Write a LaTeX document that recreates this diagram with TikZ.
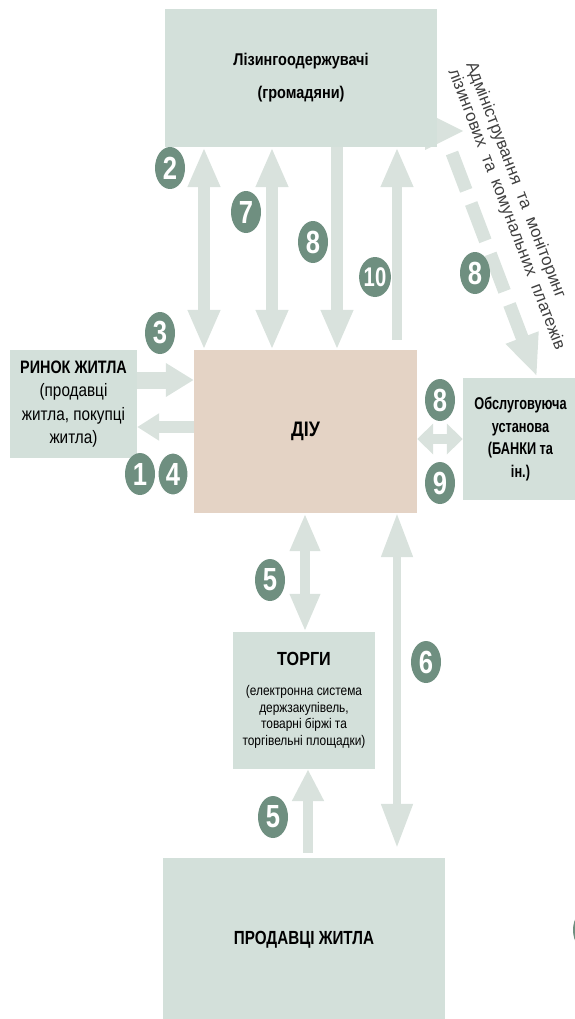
\documentclass[tikz,border=0pt]{standalone}
\usepackage{fontspec}
\setmainfont{Liberation Sans}
\newfontfamily\nara[FakeStretch=0.85]{Liberation Sans}
\newfontfamily\narb[FakeStretch=0.8]{Liberation Sans}
\newfontfamily\narc[FakeStretch=0.75]{Liberation Sans}
\usetikzlibrary{arrows.meta,shapes.geometric,calc}
\definecolor{boxc}{HTML}{D3E0DA}
\definecolor{arrc}{HTML}{D9E2DD}
\definecolor{diuc}{HTML}{E4D3C5}
\definecolor{circc}{HTML}{6F8F80}
\definecolor{txtc}{HTML}{404040}
\tikzset{
  box/.style={fill=boxc, inner sep=0pt, align=center, text=black},
  fat/.style={draw=arrc, line width=#1},
  lab/.style={ellipse, fill=circc, minimum width=30pt, minimum height=42pt, inner sep=0pt,
    text=white, font=\narb\bfseries\fontsize{32}{32}\selectfont},
}
\begin{document}
\begin{tikzpicture}[x=1pt,y=-1pt]
\useasboundingbox (0,0) rectangle (575,1019);
% arrowhead leaving the top box
\fill[arrc] (425,112) -- (463,131) -- (425,150) -- cycle;
% boxes
\node[box, minimum width=272pt, minimum height=138pt,
  font=\nara\bfseries\fontsize{17}{20}\selectfont] (top) at (301,78)
  {Лізингоодержувачі\\[13pt](громадяни)};
\node[box, minimum width=127pt, minimum height=108pt,
  font=\nara\fontsize{18}{23.5}\selectfont] (rynok) at (73.5,404)
  {{\narb\bfseries РИНОК ЖИТЛА}\\(продавці\\житла, покупці\\житла)};
\node[box, fill=diuc, minimum width=223pt, minimum height=163pt,
  font=\nara\bfseries\fontsize{21}{24}\selectfont] (diu) at (305.5,431.5) {ДІУ};
\node[box, minimum width=115pt, minimum height=122pt,
  font=\narc\bfseries\fontsize{17}{22.5}\selectfont] (bank) at (520.5,439)
  {Обслуговуюча\\установа\\(БАНКИ\ та\\ін.)};
\node[box, minimum width=142pt, minimum height=137pt,
  font=\nara\fontsize{14}{16.5}\selectfont] (torgi) at (304,700.5)
  {{\bfseries\fontsize{19}{20}\selectfont ТОРГИ}\\[13.5pt](електронна система\\держзакупівель,\\товарні біржі та\\торгівельні площадки)};
\node[box, minimum width=282pt, minimum height=164pt,
  font=\narb\bfseries\fontsize{19}{22}\selectfont] (prod) at (304,940) {ПРОДАВЦІ ЖИТЛА};
% column / row helpers
\coordinate (x2) at (204,0);
\coordinate (x7) at (272,0);
\coordinate (x8) at (337,0);
\coordinate (x10) at (397,0);
\coordinate (x5) at (305,0);
\coordinate (x6) at (397,0);
\coordinate (x5b) at (308,0);
\coordinate (y3) at (0,380);
\coordinate (y14) at (0,427);
\coordinate (ds) at (452,153);
% arrows top
\draw[fat=12pt, {Triangle[width=30pt,length=40pt]}-{Triangle[width=30pt,length=40pt]}] (top.south -| x2) -- (diu.north -| x2);
\draw[fat=12pt, {Triangle[width=30pt,length=40pt]}-{Triangle[width=30pt,length=40pt]}] (top.south -| x7) -- (diu.north -| x7);
\draw[fat=12pt, -{Triangle[width=30pt,length=40pt]}] (top.south -| x8) -- (diu.north -| x8);
\draw[fat=10pt, -{Triangle[width=30pt,length=40pt]}] ($(diu.north -| x10)+(0,-10)$) -- (top.south -| x10);
% left arrows
\draw[fat=17pt, -{Triangle[width=32pt,length=28pt]}] (rynok.east |- y3) -- (diu.west |- y3);
\draw[fat=12pt, -{Triangle[width=26pt,length=22pt]}] (diu.west |- y14) -- (rynok.east |- y14);
% right arrow
\draw[fat=10pt, {Triangle[width=30pt,length=16pt]}-{Triangle[width=30pt,length=16pt]}] (diu.east |- bank.west) -- (bank.west);
% lower arrows
\draw[fat=10pt, {Triangle[width=28pt,length=38pt]}-{Triangle[width=28pt,length=38pt]}] (diu.south -| x5) -- (torgi.north -| x5);
\draw[fat=8pt, {Triangle[width=30pt,length=44pt]}-{Triangle[width=30pt,length=44pt]}] (diu.south -| x6) -- ($(prod.north -| x6)+(0,-10)$);
\draw[fat=10pt, -{Triangle[width=30pt,length=32pt]}] ($(prod.north -| x5b)+(0,-5)$) -- (torgi.south -| x5b);
% dashed arrow
\draw[fat=13pt, dash pattern=on 40pt off 14pt, -{Triangle[width=32pt,length=42pt]}] (ds) -- ($(bank.north)+(16.5,-1)$);
% rotated text
\node[rotate=-69, align=left, text=txtc, font=\fontsize{17}{19}\selectfont] (adm) at (515,206)
  {Адміністрування\ \ та\ \ моніторинг\\лізингових\ \ та\ \ комунальних\ \ платежів};
% number labels
\node[lab] (n2) at (170,168) {2};
\node[lab] (n7) at (246,212) {7};
\node[lab] (n8) at (313,242) {8};
\node[lab, minimum width=27pt, minimum height=40pt, font=\narc\bfseries\fontsize{27}{27}\selectfont] (n10) at (375,277) {10};
\node[lab] (n3) at (160,333) {3};
\node[lab] (n1) at (140,474) {1};
\node[lab, draw=white, line width=1pt] (n4) at (173,474) {4};
\node[lab] (n8r) at (440,400) {8};
\node[lab] (n9r) at (440,483) {9};
\node[lab] (n5a) at (270,580) {5};
\node[lab] (n6) at (426,662) {6};
\node[lab] (n5b) at (273,817) {5};
\node[lab] (n8d) at (475,273) {8};
\node[lab] (np) at (588,930) {};
\end{tikzpicture}
\end{document}
